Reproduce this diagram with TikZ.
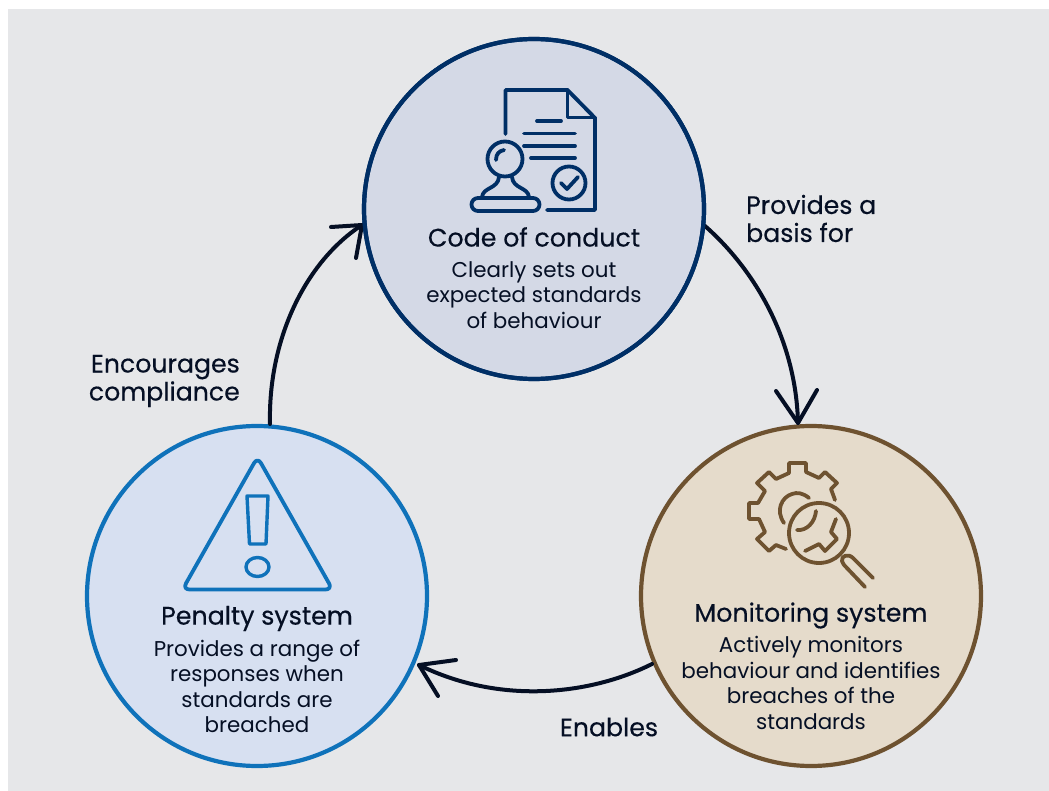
\documentclass[tikz,border=0pt]{standalone}
\usepackage{fontspec}
\setmainfont{Poppins}
\newfontfamily\medf[FakeBold=0.35]{Poppins}
\usetikzlibrary{arrows.meta}
\definecolor{bgc}{HTML}{E6E7E9}
\definecolor{navy}{HTML}{002F66}
\definecolor{navyfill}{HTML}{D4D9E6}
\definecolor{brown}{HTML}{6E5230}
\definecolor{brownfill}{HTML}{E5DBCB}
\definecolor{blueln}{HTML}{0F72BA}
\definecolor{bluefill}{HTML}{D7E0F1}
\definecolor{inkc}{HTML}{050F24}
\tikzset{
 x=1pt,y=-1pt,
 circ/.style={circle,line width=4.2pt,minimum size=340pt,inner sep=0pt},
 ttl/.style={text=inkc,align=center,font=\medf\fontsize{25.3}{25.3}\selectfont,inner sep=0pt},
 body/.style={text=inkc,align=center,font=\fontsize{21.4}{25.5}\selectfont,inner sep=0pt},
 lab/.style={text=inkc,font=\medf\fontsize{25.2}{28}\selectfont,inner sep=0pt},
 conn/.style={line width=4pt,inkc,line cap=round,line join=round},
 icon/.style={line width=3.8pt,line cap=round,line join=round},
}
\begin{document}
\begin{tikzpicture}
\useasboundingbox (0,0) rectangle (1049,791);
\fill[white] (0,0) rectangle (1049,791);
\fill[bgc] (8,9) rectangle (1049,791);
\node[circ,draw=navy,fill=navyfill] (top) at (534,209) {};
\node[circ,draw=brown,fill=brownfill] (mon) at (811,596) {};
\node[circ,draw=blueln,fill=bluefill] (pen) at (257,596) {};
\coordinate (a1) at (705,226);\coordinate (a2) at (798,423);
\coordinate (b1) at (652,664);\coordinate (b2) at (419,665);
\coordinate (c1) at (270,424);\coordinate (c2) at (362,225);
\draw[conn] (a1) .. controls (755,270) and (796,340) .. (a2);
\draw[conn] (776,391) -- (a2) -- (817,390);
\draw[conn] (b1) .. controls (590,695) and (500,705) .. (b2);
\draw[conn] (456,660) -- (b2) -- (438,696);
\draw[conn] (c1) .. controls (268,340) and (305,262) .. (c2);
\draw[conn] (331,227) -- (c2) -- (356,258);
\node[circ,draw=navy] (topring) at (534,209) {};
% icon doc
\begin{scope}[icon,navy]
\draw (505.5,134) -- (505.5,90) -- (567.5,90) -- (595,118) -- (595,210) -- (547,210);
\draw (567.5,90) -- (567.5,117.5) -- (595,117.5);
\draw (537,121) -- (561,121);
\draw (524,133.5) -- (575,133.5);
\draw (524,146) -- (575,146);
\draw (531,158) -- (575,158);
\draw (569,183) circle (16.5);
\draw (561,183) -- (567,189) -- (578,177);
\draw (505,159) circle (17.5);
\draw (496,160) .. controls (496,154) and (499,151) .. (504,150);
\draw (499,177) .. controls (498,189) and (483,187) .. (482,197);
\draw (512,177) .. controls (513,189) and (528,187) .. (529,197);
\draw (478,198) -- (533,198) arc (-90:90:6.5) -- (478,211) arc (90:270:6.5);
\end{scope}
% icon gear
\begin{scope}[icon,brown]
\draw (835,500) -- (831,489) -- (837,483) -- (825,472) -- (819,478) -- (806,472) -- (806,463) -- (789,463) -- (789,473) -- (776,479) -- (769,472) -- (757,483) -- (765,491) -- (758,503) -- (749,503) -- (749,519) -- (759,519) -- (765,532) -- (757,539) -- (769,551) -- (776,545) -- (786,549);
\draw (809,498) .. controls (803,493) and (797,492) .. (792,494) .. controls (782,497) and (775,510) .. (784,523);
\draw (816,511) .. controls (815,522) and (807,531) .. (797,530);
\draw (819,533) circle (30);
\draw (836,519) -- (831,532) -- (837,539) -- (825,551) -- (819,544) -- (805,551);
\draw (873,578) -- (853,558) .. controls (848,553) and (841,556) .. (842,561) .. controls (843,564) and (844,565) .. (845,566) -- (865,587);
\end{scope}
% icon warning
\begin{scope}[icon,blueln]
\draw[rounded corners=7pt] (257.5,457) -- (332.5,589.5) -- (182.5,589.5) -- cycle;
\draw[line width=3.4pt] (247,496) -- (268,496) -- (266,544) -- (249.5,544) -- cycle;
\draw[line width=3.4pt] (257.5,567) ellipse (11.5 and 9.5);
\end{scope}
% text
\node[ttl] (t1) at (534,237) {Code of conduct};
\node[body] (d1) at (534,295) {Clearly sets out\\expected standards\\of behaviour};
\node[ttl] (t2) at (811,615.5) {Monitoring system};
\node[body] (d2) at (811,683) {Actively monitors\\behaviour and identifies\\breaches of the\\standards};
\node[ttl] (t3) at (257,618.5) {Penalty system};
\node[body] (d3) at (257,686.5) {Provides a range of\\responses when\\standards are\\breached};
\node[lab,align=left,anchor=west] (l1) at (746,218.5) {Provides a\\basis for};
\node[lab,align=right,anchor=east] (l2) at (240,381) {Encourages\\compliance};
\node[lab] (l3) at (609,727) {Enables};
\end{tikzpicture}
\end{document}
